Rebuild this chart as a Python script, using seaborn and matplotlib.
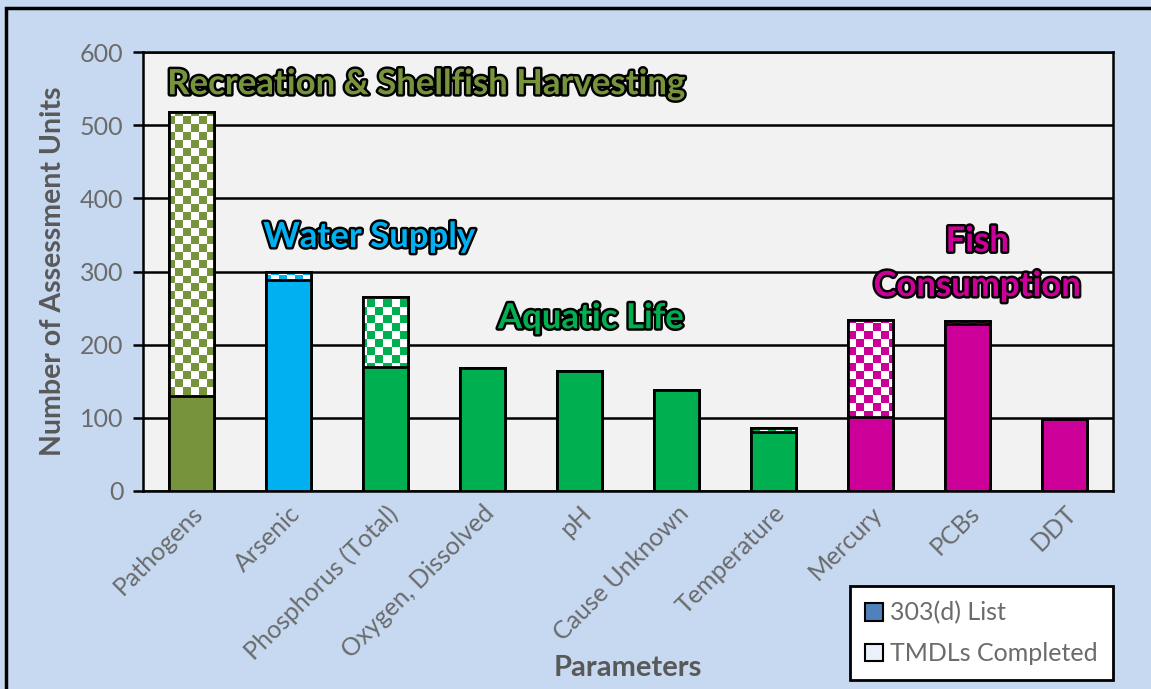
import numpy as np
import pandas as pd
import seaborn as sns
import matplotlib.pyplot as plt
import matplotlib.patheffects as pe
from matplotlib.patches import Patch, Rectangle
from matplotlib.colors import ListedColormap

# Data
parameters = ["Pathogens", "Arsenic", "Phosphorus (Total)", "Oxygen, Dissolved", "pH",
              "Cause Unknown", "Temperature", "Mercury", "PCBs", "DDT"]
listed_303d = [130, 288, 169, 168, 164, 138, 81, 101, 228, 98]
tmdls_completed = [388, 12, 96, 0, 0, 0, 5, 133, 5, 1]
use_colors = ["#77933C", "#00B0F0", "#00B050", "#00B050", "#00B050",
              "#00B050", "#00B050", "#CC0099", "#CC0099", "#CC0099"]

df = pd.DataFrame({"Parameter": parameters, "Listed": listed_303d, "TMDL": tmdls_completed})
df["Total"] = df["Listed"] + df["TMDL"]

sns.set_style("white")
plt.rcParams["font.family"] = ["Lato", "DejaVu Sans"]
gray = "#6B6B6B"
dark_gray = "#595959"

fig = plt.figure(figsize=(11.51, 6.89), dpi=100, facecolor="#C6D9F1")
ax = fig.add_axes([0.1242, 0.2874, 0.8428, 0.6371])
ax.set_facecolor("#F2F2F2")

# totals (checkered part) first, then the 303(d) part on top
sns.barplot(data=df, x="Parameter", y="Total", hue="Parameter", palette=["white"] * 10,
            legend=False, width=0.46, saturation=1, edgecolor="black", linewidth=2,
            ax=ax, zorder=2)
total_bars = list(ax.patches)

ax.set_xlim(-0.5, 9.5)
ax.set_ylim(0, 600)

# checkerboard fill clipped to each total bar
rows, cols = 55, 121
checker = (np.add.outer(np.arange(rows), np.arange(cols)) % 2).astype(float)
for bar, col in zip(total_bars, use_colors):
    im = ax.imshow(checker, cmap=ListedColormap(["white", col]), extent=(-0.5, 9.5, 0, 600),
                   aspect="auto", interpolation="nearest", zorder=2.5, origin="lower")
    im.set_clip_path(bar)
    bar.set_facecolor("none")
    outline = Rectangle(bar.get_xy(), bar.get_width(), bar.get_height(), fill=False,
                        edgecolor="black", linewidth=2, zorder=2.6)
    ax.add_patch(outline)

sns.barplot(data=df, x="Parameter", y="Listed", hue="Parameter", palette=use_colors,
            legend=False, width=0.46, saturation=1, edgecolor="black", linewidth=2,
            ax=ax, zorder=3)

ax.set_xlim(-0.5, 9.5)
ax.set_ylim(0, 600)
ax.set_yticks(range(0, 601, 100))
ax.yaxis.grid(True, color="black", linewidth=1.8, zorder=1)
ax.set_axisbelow(True)
for s in ax.spines.values():
    s.set_color("black")
    s.set_linewidth(1.8)
ax.tick_params(axis="y", which="both", left=True, length=7, width=1.8, color="black",
               labelsize=18, labelcolor=gray, pad=7)
ax.tick_params(axis="x", bottom=False, labelsize=18, labelcolor=gray, pad=4)
plt.setp(ax.get_xticklabels(), rotation=45, ha="right", rotation_mode="anchor")

ax.set_ylabel("Number of Assessment Units", fontsize=20.5, fontweight="bold", color=dark_gray,
              labelpad=10)
ax.set_xlabel("Parameters", fontsize=21, fontweight="bold", color=dark_gray, labelpad=-6)

# use group labels
stroke = [pe.withStroke(linewidth=3.5, foreground="black")]
ax.text(-0.25, 556, "Recreation & Shellfish Harvesting", fontsize=25, fontweight="bold",
        color="#77933C", va="center", ha="left", path_effects=stroke, zorder=5)
ax.text(0.74, 347, "Water Supply", fontsize=25, fontweight="bold",
        color="#00B0F0", va="center", ha="left", path_effects=stroke, zorder=5)
ax.text(3.16, 236, "Aquatic Life", fontsize=25, fontweight="bold",
        color="#00B050", va="center", ha="left", path_effects=stroke, zorder=5)
ax.text(8.1, 341, "Fish", fontsize=25, fontweight="bold",
        color="#CC0099", va="center", ha="center", path_effects=stroke, zorder=5)
ax.text(8.1, 280, "Consumption", fontsize=25, fontweight="bold",
        color="#CC0099", va="center", ha="center", path_effects=stroke, zorder=5)

handles = [Patch(facecolor="#4F81BD", edgecolor="black", linewidth=1.5, label="303(d) List"),
           Patch(facecolor="#EAF1FB", edgecolor="black", linewidth=1.5, label="TMDLs Completed")]
leg = fig.legend(handles=handles, loc="lower right", bbox_to_anchor=(0.967, 0.013),
                 frameon=True, fancybox=False, framealpha=1, fontsize=18, labelcolor=gray,
                 handlelength=0.7, handleheight=0.7, handletextpad=0.3, labelspacing=0.7,
                 borderpad=0.6, borderaxespad=0)
leg.get_frame().set_edgecolor("black")
leg.get_frame().set_linewidth(2)
leg.get_frame().set_facecolor("white")

fig.patches.append(Rectangle((6 / 1151, -0.05), 1.2, 1 - 8 / 689 + 0.05, transform=fig.transFigure,
                             fill=False, edgecolor="black", linewidth=2.5, zorder=10))

fig.savefig("out.png", dpi=100, facecolor=fig.get_facecolor())
